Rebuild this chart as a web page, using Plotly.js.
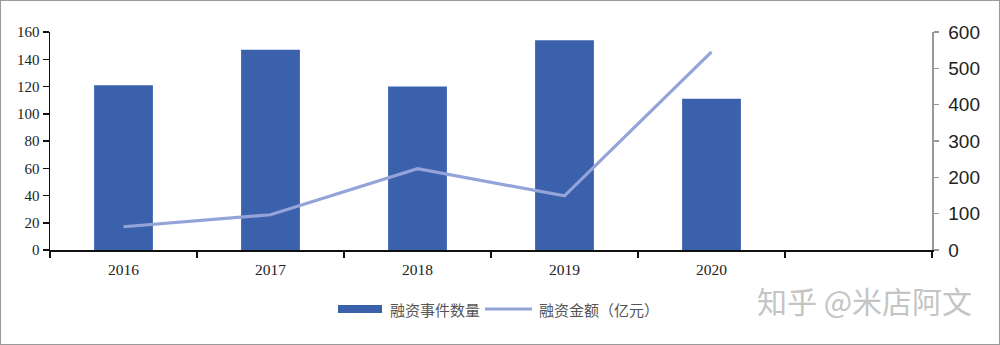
<!DOCTYPE html>
<html><head><meta charset="utf-8">
<script src="https://cdn.plot.ly/plotly-3.0.1.min.js"></script>
<style>body{margin:0;background:#fff}#wrap{position:relative;width:1000px;height:345px}#plot{width:1000px;height:345px}#frame{position:absolute;left:0;top:0;width:998px;height:343px;border:1px solid #9a9a9a;pointer-events:none}</style>
</head><body><div id="wrap"><div id="plot"></div><div id="frame"></div></div>
<script>
const years = ['2016','2017','2018','2019','2020',' '];
const eventCounts = [121, 147, 120, 154, 111];
const amounts = [64, 97, 224, 149, 545];
const leftTicks = [0,20,40,60,80,100,120,140,160];
const rightTicks = [0,100,200,300,400,500,600];
const barName = '融资事件数量';
const lineName = '融资金额（亿元）';

const traces = [
  {type:'bar', x: years.slice(0,5), y: eventCounts, name: barName, marker:{color:'#3b61ad'}, width:0.4, showlegend:false, hoverinfo:'y'},
  {type:'scatter', mode:'lines', x: years.slice(0,5), y: amounts, yaxis:'y2', name: lineName, line:{color:'#94a3d8', width:3.2}, showlegend:false}
];
const layout = {
  width:1000, height:345,
  margin:{l:50, r:68, t:32, b:95},
  paper_bgcolor:'#fff', plot_bgcolor:'#fff',
  showlegend:false,
  xaxis:{type:'category', categoryorder:'array', categoryarray: years, range:[-0.5,5.5],
    tickson:'boundaries', ticks:'outside', ticklen:6, tickcolor:'#111', tickwidth:1.5,
    showline:true, linecolor:'#111', linewidth:1.5, showgrid:false, zeroline:false, ticklabelstandoff:5,
    tickfont:{family:'Liberation Serif, serif', size:15.5, color:'#222'}, fixedrange:true},
  yaxis:{range:[0,160], tickvals:leftTicks, ticks:'outside', ticklen:6, tickcolor:'#111', tickwidth:1.5,
    showline:true, linecolor:'#111', linewidth:1.5, showgrid:false, zeroline:false,
    tickfont:{family:'Liberation Serif, serif', size:15, color:'#222'}},
  yaxis2:{overlaying:'y', side:'right', range:[0,600], tickvals:rightTicks, ticks:'outside', ticklen:5,
    tickcolor:'#999', tickwidth:1.5, showline:true, linecolor:'#999', linewidth:1.5, showgrid:false, zeroline:false,
    tickfont:{family:'Liberation Sans, Arial, sans-serif', size:19, color:'#222'}, ticklabelstandoff:6},
  shapes:[
    {type:'rect', xref:'paper', yref:'paper', x0:(338-50)/882, x1:(382-50)/882, y0:-(305-250)/218, y1:-(313-250)/218, fillcolor:'#3b61ad', line:{width:0}},
    {type:'line', xref:'paper', yref:'paper', x0:(485-50)/882, x1:(532-50)/882, y0:-(309-250)/218, y1:-(309-250)/218, line:{color:'#94a3d8', width:3}}
  ],
  annotations:[
    {xref:'paper', yref:'paper', x:(388-50)/882, y:-(309-250)/218, xanchor:'left', yanchor:'middle', showarrow:false, text:barName, font:{family:'Noto Sans CJK SC, sans-serif', size:15, color:'#555'}},
    {xref:'paper', yref:'paper', x:(537-50)/882, y:-(309-250)/218, xanchor:'left', yanchor:'middle', showarrow:false, text:lineName, font:{family:'Noto Sans CJK SC, sans-serif', size:15, color:'#555'}},
    {xref:'paper', yref:'paper', x:(755-50)/882, y:-(300-250)/218, xanchor:'left', yanchor:'middle', showarrow:false, text:'知乎 @米店阿文', font:{family:'Noto Sans CJK SC, sans-serif', size:30, color:'#c4c4c4'}}
  ]
};
Plotly.newPlot('plot', traces, layout, {displayModeBar:false, staticPlot:true});
</script></body></html>
